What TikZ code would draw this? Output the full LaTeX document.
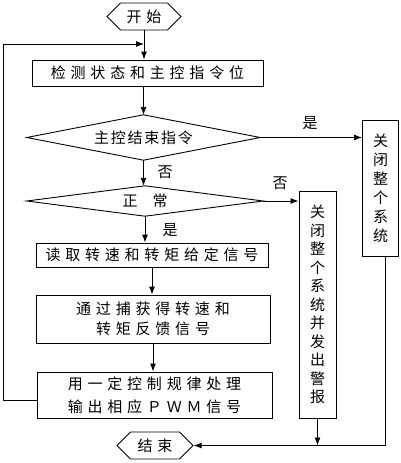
\documentclass[tikz,border=0pt]{standalone}
\usepackage{fontspec}
\newfontfamily\cjk{Noto Sans CJK SC}
\newfontfamily\cjkw[LetterSpace=32]{Noto Sans CJK SC}
\newfontfamily\cjkn[LetterSpace=12]{Noto Sans CJK SC}
\usetikzlibrary{shapes.geometric,shapes.symbols,arrows.meta,calc}
\begin{document}
\begin{tikzpicture}[x=1pt,y=-1pt,
  box/.style={draw, line width=0.9pt, inner sep=0pt, align=center, font=\cjkw\fontsize{15}{20}\selectfont},
  vbox/.style={draw, line width=0.9pt, inner sep=0pt, align=center, font=\cjk\fontsize{15}{19}\selectfont},
  hex/.style={draw, line width=0.9pt, shape=signal, signal to=east and west, signal pointer angle=90, inner sep=0pt, font=\cjkw\fontsize{15}{18}\selectfont},
  dia/.style={rectangle, inner sep=0pt, font=\cjkn\fontsize{15}{18}\selectfont},
  diaout/.style={line width=0.9pt},
  lab/.style={inner sep=0pt, font=\cjk\fontsize{15}{18}\selectfont},
  arr/.style={-{Latex[length=8pt,width=6pt]}, line width=0.9pt}]
\useasboundingbox (0,0) rectangle (400,463);
\node[hex, minimum width=74pt, minimum height=27pt] (start) at (144,16.5) {开始};
\node[box, minimum width=231pt, minimum height=26pt] (b1) at (147.5,73) {检测状态和主控指令位};
\node[dia, minimum width=233pt, minimum height=45pt] (d1) at (143.5,137.5) {主控结束指令};
\draw[diaout] (d1.west) -- (d1.north) -- (d1.east) -- (d1.south) -- cycle;
\node[dia, minimum width=236pt, minimum height=30pt] (d2) at (145,201) {正\hspace{15pt}常};
\draw[diaout] (d2.west) -- (d2.north) -- (d2.east) -- (d2.south) -- cycle;
\node[box, minimum width=232pt, minimum height=24pt] (b3) at (152,255) {读取转速和转矩给定信号};
\node[box, minimum width=234pt, minimum height=48pt] (b4) at (153,319) {通过捕获得转速和\\转矩反馈信号};
\node[box, minimum width=235pt, minimum height=46pt, font=\cjkw\fontsize{15}{23}\selectfont] (b5) at (154.5,395) {用一定控制规律处理\\输出相应ＰＷＭ信号};
\node[vbox, minimum width=36pt, minimum height=136pt] (sa) at (380.5,188) {关\\闭\\整\\个\\系\\统};
\node[vbox, minimum width=37pt, minimum height=227pt, font=\cjk\fontsize{15}{18.5}\selectfont] (sb) at (317.5,304.5) {关\\闭\\整\\个\\系\\统\\并\\发\\出\\警\\报};
\node[hex, minimum width=76pt, minimum height=27pt] (end) at (155,445.5) {结束};
\node[lab] (l1) at (310,123) {是};
\node[lab] (l2) at (165,172) {否};
\node[lab] (l3) at (280,183) {否};
\node[lab] (l4) at (170,230) {是};
\coordinate (loopT) at (3,44);
\draw[arr] (start.south) -- (start.south |- b1.north);
\draw[arr] ([yshift=-5pt]b5.west) -| (loopT) -- (loopT -| start.south);
\draw[arr] (b1.south -| d1.north) -- (d1.north);
\draw[arr] (d1.east) -- (d1.east -| sa.west);
\draw[arr] (d1.south) -- (d1.south |- d2.north);
\draw[arr] (d2.east) -- (d2.east -| sb.west);
\draw[arr] (d2.south) -- (d2.south |- b3.north);
\draw[arr] (b3.south) -- (b3.south |- b4.north);
\draw[arr] (b4.south) -- (b4.south |- b5.north);
\draw[arr] ([xshift=5pt]sa.south) |- (end.east);
\draw[arr] (sb.south) -- (sb.south |- end.east);
\end{tikzpicture}
\end{document}
